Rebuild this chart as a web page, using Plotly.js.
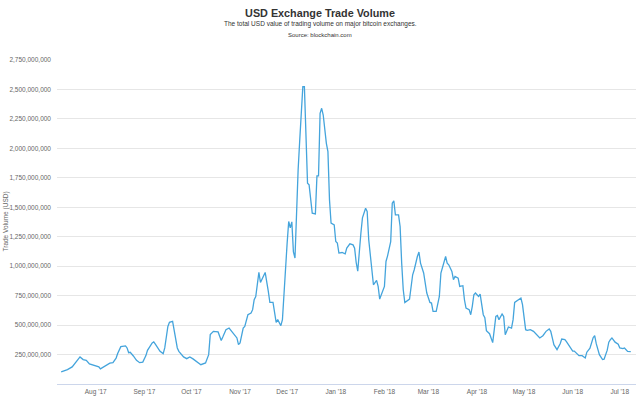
<!DOCTYPE html>
<html>
<head>
<meta charset="utf-8">
<script src="https://cdn.plot.ly/plotly-3.0.1.min.js"></script>
<style>html,body{margin:0;padding:0;background:#fff;}#chart{width:640px;height:396px;}</style>
</head>
<body>
<div id="chart"></div>
<script>
// Daily USD exchange trade volume (values in millions of USD)
const dates = [
"2017-07-10","2017-07-14","2017-07-17","2017-07-19","2017-07-22","2017-07-24","2017-07-26","2017-07-28",
"2017-08-01","2017-08-03","2017-08-04","2017-08-06","2017-08-08","2017-08-10","2017-08-12","2017-08-14","2017-08-15","2017-08-17","2017-08-20","2017-08-21","2017-08-22","2017-08-23","2017-08-25","2017-08-27","2017-08-29","2017-08-31",
"2017-09-02","2017-09-03","2017-09-06","2017-09-07","2017-09-08","2017-09-10","2017-09-11","2017-09-13","2017-09-14","2017-09-16","2017-09-17","2017-09-19","2017-09-20","2017-09-22","2017-09-23","2017-09-26","2017-09-28","2017-09-30",
"2017-10-02","2017-10-04","2017-10-07","2017-10-10","2017-10-12","2017-10-13","2017-10-15","2017-10-18","2017-10-20","2017-10-21","2017-10-23","2017-10-25","2017-10-28","2017-10-30","2017-10-31",
"2017-11-01","2017-11-03","2017-11-04","2017-11-06","2017-11-08","2017-11-09","2017-11-10","2017-11-11","2017-11-13","2017-11-14","2017-11-16","2017-11-17","2017-11-19","2017-11-20","2017-11-22","2017-11-23","2017-11-24","2017-11-25","2017-11-27","2017-11-28","2017-11-29",
"2017-12-01","2017-12-02","2017-12-03","2017-12-04","2017-12-05","2017-12-06","2017-12-07","2017-12-08","2017-12-09","2017-12-10","2017-12-11","2017-12-12","2017-12-13","2017-12-14","2017-12-15","2017-12-16","2017-12-17","2017-12-19","2017-12-20","2017-12-21","2017-12-22","2017-12-23","2017-12-24","2017-12-26","2017-12-27","2017-12-28","2017-12-29","2017-12-31",
"2018-01-01","2018-01-02","2018-01-03","2018-01-05","2018-01-07","2018-01-08","2018-01-10","2018-01-12","2018-01-13","2018-01-14","2018-01-15","2018-01-17","2018-01-18","2018-01-20","2018-01-21","2018-01-22","2018-01-24","2018-01-25","2018-01-27","2018-01-28","2018-01-29","2018-01-31",
"2018-02-01","2018-02-02","2018-02-03","2018-02-05","2018-02-06","2018-02-07","2018-02-08","2018-02-10","2018-02-11","2018-02-12","2018-02-13","2018-02-14","2018-02-16","2018-02-17","2018-02-19","2018-02-20","2018-02-22","2018-02-23","2018-02-24","2018-02-26","2018-02-28",
"2018-03-02","2018-03-03","2018-03-04","2018-03-06","2018-03-08","2018-03-09","2018-03-11","2018-03-12","2018-03-13","2018-03-14","2018-03-16","2018-03-17","2018-03-18","2018-03-20","2018-03-21","2018-03-23","2018-03-24","2018-03-25","2018-03-27","2018-03-28","2018-03-29","2018-03-30","2018-03-31",
"2018-04-02","2018-04-03","2018-04-04","2018-04-05","2018-04-06","2018-04-07","2018-04-09","2018-04-11","2018-04-12","2018-04-13","2018-04-14","2018-04-15","2018-04-17","2018-04-18","2018-04-19","2018-04-21","2018-04-23","2018-04-24","2018-04-25","2018-04-26","2018-04-28","2018-04-29","2018-04-30",
"2018-05-01","2018-05-02","2018-05-03","2018-05-05","2018-05-07","2018-05-08","2018-05-10","2018-05-11","2018-05-13","2018-05-15","2018-05-17","2018-05-18","2018-05-19","2018-05-20","2018-05-22","2018-05-24","2018-05-25","2018-05-27","2018-05-28","2018-05-30",
"2018-06-01","2018-06-02","2018-06-04","2018-06-05","2018-06-07","2018-06-09","2018-06-10","2018-06-11","2018-06-12","2018-06-14","2018-06-15","2018-06-16","2018-06-17","2018-06-18","2018-06-20","2018-06-21","2018-06-23","2018-06-24","2018-06-25","2018-06-26","2018-06-28","2018-06-30",
"2018-07-01","2018-07-03","2018-07-04","2018-07-06","2018-07-08"
];
const volumeMillions = [
103,122,145,179,230,207,201,170,
156,145,128,143,156,177,181,220,258,317,323,306,266,269,238,201,181,186,
241,286,348,357,338,304,277,258,306,489,523,531,461,306,277,230,215,230,
213,192,164,179,249,419,447,442,370,399,461,475,419,391,334,
348,475,489,588,603,631,715,743,947,862,919,947,786,692,692,616,523,546,495,546,800,
1196,1379,1326,1376,1122,1069,1500,1817,2063,2290,2523,2523,2099,1704,1690,1591,1450,1444,1766,1766,2298,2340,2283,2043,1972,1563,1365,1351,
1209,1196,1111,1116,1105,1153,1190,1181,1153,1031,958,1280,1410,1492,1464,1224,942,842,879,828,721,786,
828,1040,1088,1209,1535,1554,1436,1436,1337,1026,800,692,715,721,927,970,1082,1120,1026,942,772,
692,687,616,616,743,942,1040,1082,1026,1012,955,885,913,899,828,834,715,645,631,588,659,758,772,
743,762,673,588,563,453,427,351,461,574,582,546,594,574,419,484,475,546,692,701,721,730,673,
546,461,455,461,447,433,410,391,410,447,467,447,391,334,292,342,381,376,359,317,
279,279,258,241,241,221,270,292,304,393,410,342,297,249,207,211,287,355,376,391,355,338,
306,300,306,277,275
];
const yTickVals = [250,500,750,1000,1250,1500,1750,2000,2250,2500,2750];
const yTickText = ["250,000,000","500,000,000","750,000,000","1,000,000,000","1,250,000,000","1,500,000,000","1,750,000,000","2,000,000,000","2,250,000,000","2,500,000,000","2,750,000,000"];
const xRange = ["2017-07-07 08:00","2018-07-11 08:00"];
const yRange = [0, 2750];

const FONT = "Liberation Sans, Arial, Helvetica, sans-serif";

const trace = {
  x: dates, y: volumeMillions, type: "scatter", mode: "lines",
  line: {color: "#44a4dc", width: 1.3},
  hoverinfo: "x+y"
};

const layout = {
  width: 640, height: 396,
  margin: {l: 57, r: 4, t: 60, b: 12},
  paper_bgcolor: "#ffffff", plot_bgcolor: "#ffffff",
  showlegend: false,
  font: {family: FONT, color: "#666666", size: 7},
  title: {
    text: "<b>USD Exchange Trade Volume</b>",
    font: {family: FONT, size: 10.8, color: "#333333"},
    x: 0.5, xref: "container", xanchor: "center",
    y: 1 - 13/396, yref: "container", yanchor: "middle"
  },
  xaxis: {
    type: "date", range: xRange,
    tickmode: "linear", tick0: "2017-08-01", dtick: "M1",
    tickformat: "%b '%y",
    showgrid: false, zeroline: false,
    showline: true, linecolor: "#ccd6eb", linewidth: 1,
    ticks: "", ticklabelstandoff: 1,
    tickfont: {family: FONT, size: 6.5, color: "#666666"}
  },
  xaxis2: {
    type: "date", range: xRange, overlaying: "x", anchor: "y", side: "bottom",
    tickmode: "linear", tick0: "2017-08-01", dtick: "M1",
    showgrid: false, zeroline: false, showline: false,
    ticks: "outside", ticklen: 9, tickwidth: 1, tickcolor: "#ccd6eb",
    showticklabels: false
  },
  yaxis: {
    range: yRange,
    tickmode: "array", tickvals: yTickVals, ticktext: yTickText,
    showgrid: true, gridcolor: "#e6e6e6", gridwidth: 1,
    zeroline: false, showline: false, ticks: "",
    ticklabelstandoff: 5,
    tickfont: {family: FONT, size: 6.5, color: "#666666"}
  },
  annotations: [
    {text: "The total USD value of trading volume on major bitcoin exchanges.",
     xref: "paper", yref: "paper", x: (320-57)/579, y: (384-24)/324, xanchor: "center", yanchor: "middle",
     showarrow: false, font: {family: FONT, size: 6.5, color: "#333333"}},
    {text: "Source: blockchain.com",
     xref: "paper", yref: "paper", x: (320-57)/579, y: (384-35)/324, xanchor: "center", yanchor: "middle",
     showarrow: false, font: {family: FONT, size: 6, color: "#333333"}},
    {text: "Trade Volume (USD)",
     xref: "paper", yref: "paper", x: (5.5-57)/579, y: 0.5, xanchor: "center", yanchor: "middle",
     textangle: -90, showarrow: false, font: {family: FONT, size: 6.5, color: "#666666"}}
  ]
};

Plotly.newPlot("chart", [trace], layout, {displayModeBar: false, staticPlot: true});
</script>
</body>
</html>
